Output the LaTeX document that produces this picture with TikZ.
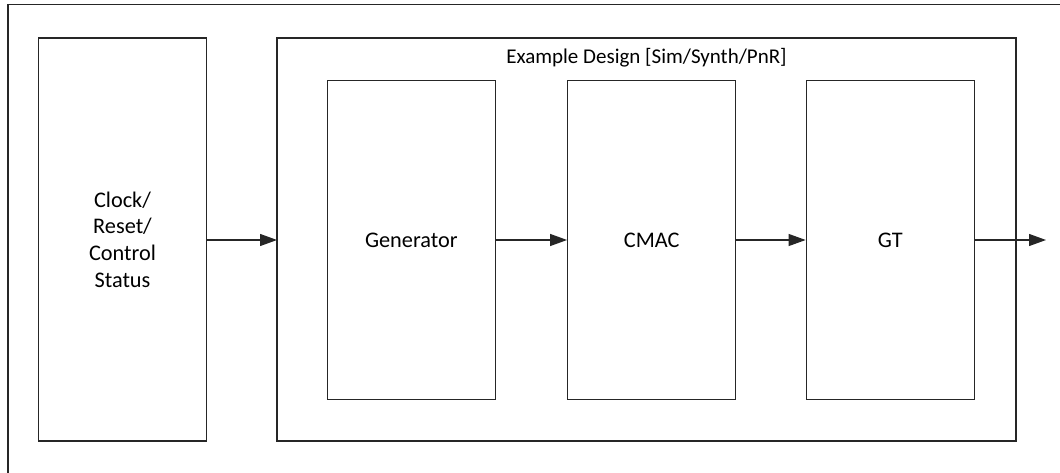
\documentclass[tikz,border=0pt]{standalone}
\usepackage{fontspec}
\setmainfont{Carlito}
\usetikzlibrary{arrows.meta}
\begin{document}
\begin{tikzpicture}[x=1pt,y=-1pt,
  blk/.style={draw=black!85,line width=1.2pt},
  conn/.style={draw=black!85,line width=1.2pt,-{Triangle[length=17pt,width=12pt]}},
  lbl/.style={font=\fontsize{22.3}{26.7}\selectfont,align=center,inner sep=0pt}]
\useasboundingbox (0,0) rectangle (1060,473);
\draw[blk] (8,473) -- (8,4.5) -- (1060,4.5);
\draw[blk] (38.5,38) rectangle (206.5,441) node[midway,lbl] (clk) {Clock/\\Reset/\\Control\\Status};
\coordinate (clkR) at (206.5,240);
\draw[blk] (277,38) rectangle (1016,441);
\coordinate (edL) at (277,240);
\coordinate (edR) at (1016,240);
\node[lbl,font=\fontsize{21}{25}\selectfont] (edlbl) at (646.5,58) {Example Design [Sim/Synth/PnR]};
\node[blk,minimum width=168pt,minimum height=319pt,lbl,line width=1.2pt,draw=black!85] (gen) at (411.3,240) {Generator};
\node[blk,minimum width=168pt,minimum height=319pt,lbl,line width=1.2pt,draw=black!85] (cmac) at (651.7,240) {CMAC};
\node[blk,minimum width=168pt,minimum height=319pt,lbl,line width=1.2pt,draw=black!85] (gt) at (890.2,240) {GT};
\coordinate (out) at (1046,240);
\draw[conn] (clkR) -- (edL);
\draw[conn] (gen.east) -- (cmac.west);
\draw[conn] (cmac.east) -- (gt.west);
\draw[conn] (gt.east) -- (out);
\end{tikzpicture}
\end{document}
